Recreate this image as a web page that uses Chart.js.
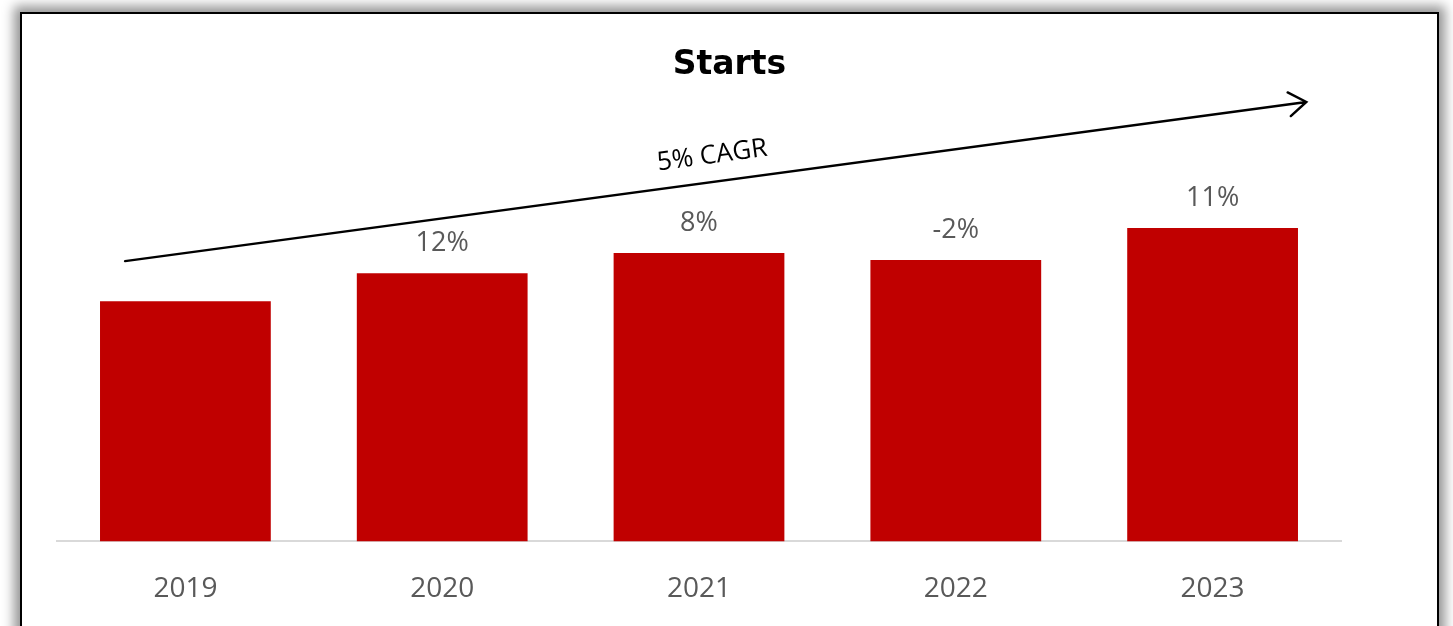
<!DOCTYPE html>
<html>
<head>
<meta charset="utf-8">
<title>Starts</title>
<script src="https://cdn.jsdelivr.net/npm/chart.js@4/dist/chart.umd.min.js"></script>
<style>
  html, body { margin: 0; padding: 0; background: #fff; overflow: hidden; }
  /* marco negro con sombra, se sale por abajo de la ventana */
  .marco {
    position: absolute; left: 20px; top: 12px;
    width: 1415px; height: 660px;
    border: 2px solid #000; background: #fff;
    box-shadow: 0 0 11px 6px rgba(0,0,0,.42);
  }
  .marco canvas { display: block; }
</style>
</head>
<body>
<div class="marco"><canvas id="starts" width="1415" height="624"></canvas></div>
<script>
// Datos del gráfico
const titulo = 'Starts';
const anios = ['2019', '2020', '2021', '2022', '2023'];
const starts = [240, 268, 288, 281, 313];
const crecimiento = ['', '12%', '8%', '-2%', '11%'];
const cagrTexto = '5% CAGR';
// Flecha de tendencia en unidades del gráfico (índice de categoría, valor)
const flechaDesde = [-0.235, 280];
const flechaHasta = [4.365, 439];

const FONT = "'Open Sans', 'Noto Sans', sans-serif";
const GRIS = '#595959';
const ROJO = '#C00000';

// título centrado sobre todo el lienzo (no sobre el área del gráfico)
const tituloCentrado = {
  id: 'tituloCentrado',
  afterDraw(chart) {
    const { ctx, width } = chart;
    ctx.save();
    ctx.font = `bold 33px 'DejaVu Sans', ${FONT}`;
    ctx.fillStyle = '#000';
    ctx.textAlign = 'center';
    ctx.textBaseline = 'middle';
    ctx.fillText(titulo, width / 2, 51);
    ctx.restore();
  },
};

// etiquetas de % encima de cada barra
const etiquetasPct = {
  id: 'etiquetasPct',
  afterDatasetsDraw(chart) {
    const { ctx } = chart;
    const meta = chart.getDatasetMeta(0);
    ctx.save();
    ctx.font = `27px ${FONT}`;
    ctx.fillStyle = GRIS;
    ctx.textAlign = 'center';
    ctx.textBaseline = 'middle';
    meta.data.forEach((bar, i) => {
      if (!crecimiento[i]) return;
      ctx.fillText(crecimiento[i], bar.x, bar.y - 30);
    });
    ctx.restore();
  },
};

// flecha CAGR con su texto inclinado
const flechaCagr = {
  id: 'flechaCagr',
  afterDraw(chart) {
    const { ctx, scales: { x, y } } = chart;
    const x1 = x.getPixelForValue(flechaDesde[0]), y1 = y.getPixelForValue(flechaDesde[1]);
    const x2 = x.getPixelForValue(flechaHasta[0]), y2 = y.getPixelForValue(flechaHasta[1]);
    const ang = Math.atan2(y2 - y1, x2 - x1);
    const punta = 21, abre = Math.PI / 5.2;
    ctx.save();
    ctx.strokeStyle = '#000';
    ctx.lineWidth = 2.4;
    ctx.lineCap = 'round';
    ctx.beginPath();
    ctx.moveTo(x1, y1);
    ctx.lineTo(x2, y2);
    ctx.moveTo(x2 - punta * Math.cos(ang - abre), y2 - punta * Math.sin(ang - abre));
    ctx.lineTo(x2, y2);
    ctx.lineTo(x2 - punta * Math.cos(ang + abre), y2 - punta * Math.sin(ang + abre));
    ctx.stroke();

    const mx = (x1 + x2) / 2, my = (y1 + y2) / 2;
    ctx.translate(mx, my);
    ctx.rotate(ang);
    ctx.font = `26px ${FONT}`;
    ctx.fillStyle = '#000';
    ctx.textAlign = 'center';
    ctx.textBaseline = 'middle';
    ctx.fillText(cagrTexto, 0, -26);
    ctx.restore();
  },
};

new Chart(document.getElementById('starts'), {
  type: 'bar',
  data: {
    labels: anios,
    datasets: [{
      data: starts,
      backgroundColor: ROJO,
      borderWidth: 0,
      barPercentage: 0.665,
      categoryPercentage: 1,
    }],
  },
  options: {
    responsive: false,
    animation: false,
    layout: { padding: { left: 35, right: 96, top: 131, bottom: 1 } },
    plugins: {
      legend: { display: false },
      tooltip: { enabled: false },
      title: { display: false },
    },
    scales: {
      x: {
        grid: { display: false, drawTicks: false },
        border: { display: true, color: '#d9d9d9', width: 2 },
        ticks: { color: GRIS, font: { family: FONT, size: 28 }, padding: 31 },
      },
      y: {
        display: false,
        min: 0,
        max: 396,
      },
    },
  },
  plugins: [etiquetasPct, flechaCagr, tituloCentrado],
});
</script>
</body>
</html>
